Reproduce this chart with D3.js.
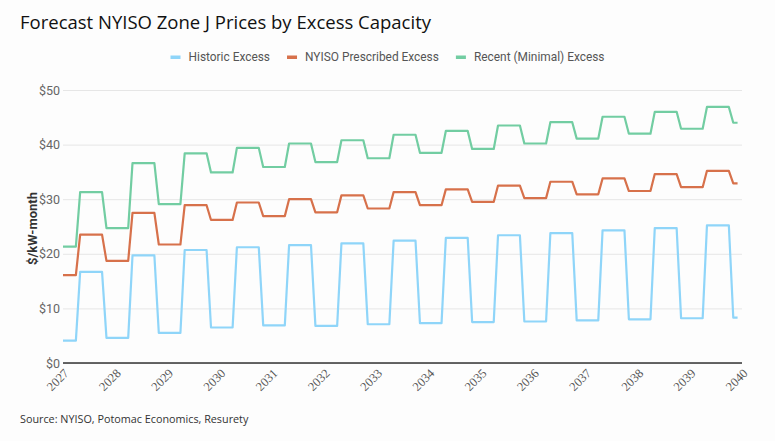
<!DOCTYPE html>
<html>
<head>
<meta charset="utf-8">
<script src="https://cdn.jsdelivr.net/npm/d3@7"></script>
<style>
  html, body { margin: 0; padding: 0; background: #fdfdfd; }
  svg { display: block; }
</style>
</head>
<body>
<svg id="chart" width="775" height="441"></svg>
<script>
// Capability periods: Winter (Nov–Apr) and Summer (May–Oct); first period is Jan–Apr 2027, last is Nov–Dec 2039
const periodStarts = [
  "2027-01","2027-05","2027-11","2028-05","2028-11","2029-05","2029-11","2030-05","2030-11",
  "2031-05","2031-11","2032-05","2032-11","2033-05","2033-11","2034-05","2034-11","2035-05",
  "2035-11","2036-05","2036-11","2037-05","2037-11","2038-05","2038-11","2039-05","2039-11"
];
const periodEnd = "2039-12";

const seriesNames = ["Historic Excess", "NYISO Prescribed Excess", "Recent (Minimal) Excess"];

// $/kW-month per capability period (aligned with periodStarts)
const historicExcess = [
  4.1, 16.7, 4.6, 19.7, 5.5, 20.7, 6.5, 21.2, 6.9, 21.6, 6.8, 21.9, 7.1, 22.4,
  7.3, 22.9, 7.5, 23.4, 7.6, 23.8, 7.8, 24.3, 8.0, 24.7, 8.2, 25.2, 8.3
];
const nyisoPrescribedExcess = [
  16.1, 23.5, 18.7, 27.5, 21.7, 28.9, 26.2, 29.4, 26.9, 30.0, 27.6, 30.7, 28.3, 31.3,
  28.9, 31.8, 29.5, 32.5, 30.2, 33.2, 30.9, 33.8, 31.5, 34.6, 32.2, 35.2, 32.9
];
const recentMinimalExcess = [
  21.3, 31.3, 24.7, 36.6, 29.1, 38.4, 34.9, 39.4, 35.9, 40.2, 36.8, 40.8, 37.5, 41.8,
  38.5, 42.5, 39.2, 43.5, 40.2, 44.1, 41.1, 45.1, 42.0, 46.0, 42.9, 46.9, 44.0
];

const yTicks = [0, 10, 20, 30, 40, 50];
const xTickYears = [2027,2028,2029,2030,2031,2032,2033,2034,2035,2036,2037,2038,2039,2040];
const colors = ["#8fd5f9", "#d7714b", "#72cda2"];

const parseMonth = d3.timeParse("%Y-%m");

// Monthly points: each month carries the value of its capability period
function monthly(values) {
  const pts = [];
  periodStarts.forEach((s, i) => {
    const start = parseMonth(s);
    const stop = i + 1 < periodStarts.length ? parseMonth(periodStarts[i + 1]) : d3.timeMonth.offset(parseMonth(periodEnd), 1);
    d3.timeMonth.range(start, stop).forEach(m => pts.push({ date: m, value: values[i] }));
  });
  return pts;
}
const seriesData = [historicExcess, nyisoPrescribedExcess, recentMinimalExcess].map(monthly);

const svg = d3.select("#chart");
const margin = { left: 63, right: 33, top: 90, bottom: 78 };
const W = 775, H = 441;

const x = d3.scaleTime()
  .domain([new Date(2027, 0, 1), new Date(2040, 0, 1)])
  .range([margin.left, W - margin.right]);
const y = d3.scaleLinear().domain([0, 50]).range([H - margin.bottom, margin.top]);

// Title
svg.append("text")
  .attr("x", 20).attr("y", 29)
  .attr("font-family", "'Open Sans', 'Noto Sans', sans-serif")
  .attr("font-size", 18.5).attr("fill", "#111")
  .text("Forecast NYISO Zone J Prices by Excess Capacity");

// Legend
const legendFont = "Roboto, 'Noto Sans', sans-serif";
const legend = svg.append("g").attr("class", "legend");
let lx = 0;
const items = [];
seriesNames.forEach((name, i) => {
  const g = legend.append("g");
  g.append("rect").attr("x", 0).attr("y", -1.5).attr("width", 10).attr("height", 3.5).attr("fill", colors[i]);
  const t = g.append("text").attr("x", 18).attr("y", 0).attr("dy", "0.35em")
    .attr("font-family", legendFont).attr("font-size", 11.9).attr("fill", "#555").text(name);
  items.push({ g, w: 18 + t.node().getComputedTextLength() });
});
const gap = 17;
const totalW = d3.sum(items, d => d.w) + gap * (items.length - 1);
lx = (W - totalW) / 2 + 0;
items.forEach(it => { it.g.attr("transform", `translate(${lx},57)`); lx += it.w + gap; });

// Gridlines + y labels
const yAxis = d3.axisLeft(y).tickValues(yTicks).tickSize(-(x.range()[1] - x.range()[0])).tickFormat(d => "$" + d);
const gy = svg.append("g").attr("transform", `translate(${margin.left},0)`).call(yAxis);
gy.select(".domain").remove();
gy.selectAll(".tick line").attr("stroke", "#e6e6e6").attr("stroke-width", 1);
gy.selectAll(".tick text")
  .attr("x", -3).attr("font-family", legendFont).attr("font-size", 12.5).attr("fill", "#666");

// Y title
svg.append("text")
  .attr("transform", `translate(32,${(y(0) + y(50)) / 2 + 2}) rotate(-90)`)
  .attr("text-anchor", "middle").attr("dy", "0.35em")
  .attr("font-family", legendFont).attr("font-size", 13).attr("font-weight", "bold").attr("fill", "#333")
  .text("$/kW-month");

// Lines
const line = d3.line().x(d => x(d.date)).y(d => y(d.value));
seriesData.forEach((pts, i) => {
  svg.append("path").datum(pts)
    .attr("fill", "none").attr("stroke", colors[i]).attr("stroke-width", 2.2)
    .attr("stroke-linejoin", "round").attr("d", line);
});

// Zero line
svg.append("line")
  .attr("x1", x.range()[0]).attr("x2", x.range()[1])
  .attr("y1", y(0)).attr("y2", y(0))
  .attr("stroke", "#333").attr("stroke-width", 1.5);

// X axis labels
const xAxis = d3.axisBottom(x).tickValues(xTickYears.map(yr => new Date(yr, 0, 1))).tickSize(0).tickFormat(d3.timeFormat("%Y"));
const gx = svg.append("g").attr("transform", `translate(0,${y(0)})`).call(xAxis);
gx.select(".domain").remove();
gx.selectAll(".tick text")
  .attr("font-family", "'Liberation Serif', 'DejaVu Serif', serif").attr("font-size", 12.5).attr("fill", "#555")
  .attr("text-anchor", "end").attr("y", 0).attr("dy", 0)
  .attr("transform", "translate(6,11) rotate(-45)");

// Source
svg.append("text")
  .attr("x", 20).attr("y", 423)
  .attr("font-family", "'Open Sans', 'Noto Sans', sans-serif")
  .attr("font-size", 10.8).attr("fill", "#333")
  .text("Source: NYISO, Potomac Economics, Resurety");
</script>
</body>
</html>
